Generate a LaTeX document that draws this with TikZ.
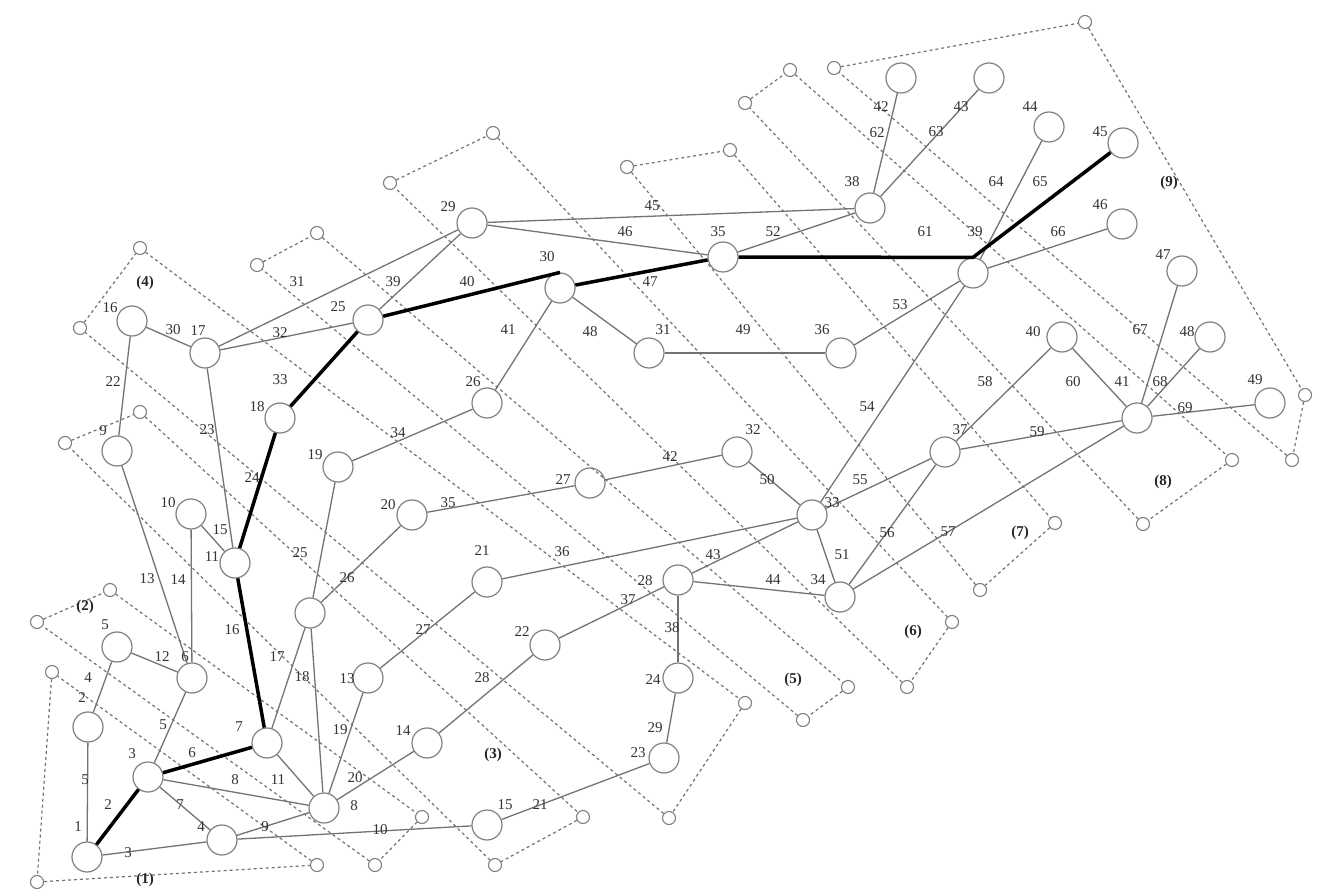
\documentclass[tikz,border=0pt]{standalone}
\usepackage{fontspec}
\setmainfont{Liberation Serif}
\begin{document}
\begin{tikzpicture}[x=1pt,y=-1pt,
  bn/.style={circle,draw=black!50,line width=1.2pt,minimum size=30pt,inner sep=0pt},
  sn/.style={circle,draw=black!50,line width=1.1pt,minimum size=13pt,inner sep=0pt},
  ed/.style={draw=black!55,line width=1.3pt},
  hv/.style={draw=black,line width=3.5pt,line join=round},
  bd/.style={draw=black!55,line width=1.2pt,dash pattern=on 3pt off 3pt},
  lb/.style={font=\fontsize{15}{15}\selectfont,text=black!80,inner sep=0pt},
  rl/.style={font=\fontsize{15}{15}\selectfont\bfseries,text=black!85,inner sep=0pt}]
\useasboundingbox[fill=white] (0,0) rectangle (1318,890);
% big nodes
\foreach \n/\x/\y in {1/87/857,2/88/727,3/148/777,4/222/840,5/117/647,6/192/678,7/267/743,8/324/808,
 9/117/451,10/191/514,11/235/563,12/310/613,13/368/678,14/427/743,15/487/825,
 16/132/321,17/205/353,18/280/418,19/338/467,20/412/515,21/487/582,22/545/645,23/664/758,24/678/678,
 25/368/320,26/487/403,27/590/483,28/678/580,29/472/223,30/560/288,31/649/353,32/737/452,33/812/515,34/840/597,
 35/723/257,36/841/353,37/945/452,38/870/208,39/973/273,40/1062/337,41/1137/418,
 42/901/78,43/989/78,44/1049/127,45/1123/143,46/1122/224,47/1182/271,48/1210/337,49/1270/403}
  {\node[bn] (n\n) at (\x,\y) {};}
% small corner nodes
\foreach \n/\x/\y in {a1/52/672,b1/37/882,c1/317/865,
 a2/37/622,b2/110/590,c2/375/865,d2/422/817,
 a3/65/443,b3/140/412,c3/495/865,d3/583/817,
 a4/80/328,b4/140/248,c4/669/818,d4/745/703,
 a5/257/265,b5/317/233,c5/803/720,d5/848/687,
 a6/390/183,b6/493/133,c6/907/687,d6/952/622,
 a7/627/167,b7/730/150,c7/980/590,d7/1055/523,
 a8/745/103,b8/790/70,c8/1143/524,d8/1232/460,
 a9/834/68,b9/1085/22,c9/1292/460,d9/1305/395}
  {\node[sn] (\n) at (\x,\y) {};}
% region boundaries
\draw[bd] (a1) -- (b1) -- (c1) -- (a1);
\foreach \k in {2,...,9}
  {\draw[bd] (c\k) -- (a\k) -- (b\k) -- (d\k) -- (c\k);}
% thin edges
\foreach \a/\b in {1/2,1/4,2/5,3/6,3/4,3/8,4/8,4/15,7/8,5/6,9/6,10/6,10/11,7/12,12/8,13/8,14/8,
 15/23,16/9,17/11,19/12,20/12,21/13,22/14,24/23,16/17,17/29,17/25,19/26,20/27,21/33,22/28,28/24,
 25/29,26/30,27/32,28/33,28/34,29/38,29/35,30/31,31/36,32/33,33/34,35/38,36/39,33/39,33/37,34/37,
 34/41,37/40,37/41,40/41,38/42,38/43,39/44,39/46,41/47,41/48,41/49}
  {\draw[ed] (n\a) -- (n\b);}
% heavy path
\draw[hv] (n1) -- (n3);
\draw[hv] (n3) -- (n7);
\draw[hv] (n7) -- (n11);
\draw[hv] (n11) -- (n18);
\draw[hv] (n18) -- (n25);
\draw[hv] (n25) -- (n30.north);
\draw[hv] (n30) -- (n35);
\draw[hv] (n35) -- (n39.north) -- (n45);
% node labels
\foreach \t/\x/\y in {1/78/827,2/82/698,3/132/754,4/201/827,5/105/625,6/185/657,7/239/727,8/354/806,
 9/103/431,10/168/503,11/212/557,13/347/679,14/403/731,15/505/805,16/110/308,17/198/331,18/257/407,
 19/315/455,20/388/505,21/482/551,22/522/632,23/638/753,24/653/680,25/338/307,26/473/382,27/563/480,
 28/645/581,29/448/207,30/547/257,31/663/330,32/753/430,33/832/503,34/818/580,35/718/232,36/822/330,
 37/960/430,38/852/182,39/975/232,40/1033/332,41/1122/382,42/881/107,43/961/107,44/1030/107,
 45/1100/132,46/1100/205,47/1163/255,48/1187/332,49/1255/380}
  {\node[lb] (nl\t) at (\x,\y) {\t};}
% edge labels
\node[lb] (el1) at (85,780) {5};
\foreach \t/\x/\y in {2/108/805,3/128/853,4/88/678,5/163/725,6/192/753,7/180/805,8/235/780,9/265/827,
 10/380/830,11/278/780,12/162/657,13/147/579,14/178/580,15/220/530,16/232/630,17/277/657,18/302/677,
 19/340/730,20/355/778,21/540/805,22/113/382,23/207/430,24/252/478,25/300/553,26/347/578,27/423/630,
 28/482/678,29/655/728,30/173/330,31/297/282,32/280/333,33/280/380,34/398/433,35/448/503,36/562/552,
 37/628/600,38/672/628,39/393/282,40/467/282,41/508/330,42/670/457,43/713/555,44/773/580,45/652/206,
 46/625/232,47/650/282,48/590/332,49/743/330,50/767/480,51/842/555,52/773/232,53/900/305,54/867/407,
 55/860/480,56/887/533,57/948/532,58/985/382,59/1037/432,60/1073/382,61/925/232,62/877/133,
 63/936/132,64/996/182,65/1040/182,66/1058/232,67/1140/330,68/1160/382,69/1185/408}
  {\node[lb] (el\t) at (\x,\y) {\t};}
% region labels
\foreach \t/\x/\y in {1/145/880,2/85/607,3/493/755,4/145/283,5/793/680,6/913/632,7/1020/533,8/1163/482,9/1169/183}
  {\node[rl] (rl\t) at (\x,\y) {(\t)};}
\end{tikzpicture}
\end{document}
